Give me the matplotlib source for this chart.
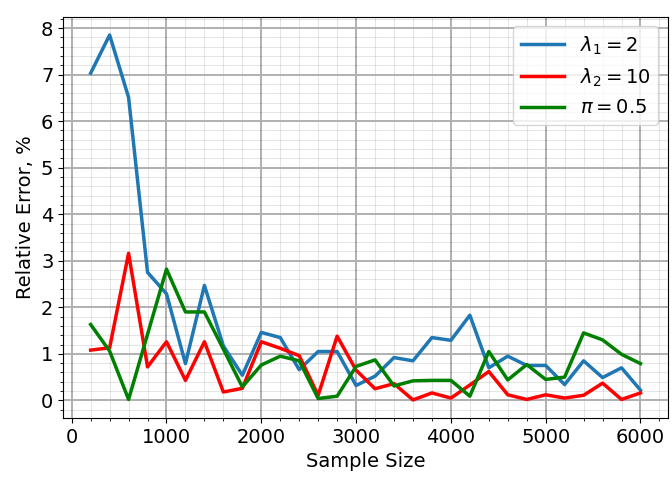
import matplotlib

matplotlib.use("Agg")
import matplotlib.pyplot as plt
from matplotlib.ticker import AutoMinorLocator

# ---- data ------------------------------------------------------------------------
sample_size = [200, 400, 600, 800, 1000, 1200, 1400, 1600, 1800, 2000,
               2200, 2400, 2600, 2800, 3000, 3200, 3400, 3600, 3800, 4000,
               4200, 4400, 4600, 4800, 5000, 5200, 5400, 5600, 5800, 6000]

err_lambda1 = [7.03, 7.85, 6.51, 2.75, 2.29, 0.79, 2.47, 1.17, 0.54, 1.46,
               1.35, 0.66, 1.05, 1.05, 0.32, 0.52, 0.92, 0.85, 1.35, 1.29,
               1.83, 0.70, 0.95, 0.75, 0.75, 0.34, 0.85, 0.49, 0.70, 0.22]

err_lambda2 = [1.08, 1.13, 3.16, 0.72, 1.26, 0.43, 1.26, 0.18, 0.26, 1.26,
               1.12, 0.96, 0.11, 1.38, 0.65, 0.25, 0.36, 0.01, 0.16, 0.05,
               0.33, 0.62, 0.12, 0.02, 0.12, 0.05, 0.11, 0.37, 0.02, 0.16]

err_pi = [1.63, 1.06, 0.02, 1.42, 2.82, 1.90, 1.90, 1.10, 0.29, 0.76,
          0.95, 0.85, 0.04, 0.09, 0.73, 0.87, 0.31, 0.42, 0.43, 0.43,
          0.09, 1.05, 0.44, 0.77, 0.45, 0.50, 1.45, 1.30, 0.99, 0.79]

labels = [r"$\lambda_1 = 2$", r"$\lambda_2 = 10$", r"$\pi = 0.5$"]
colors = ["#1f77b4", "red", "green"]

plt.rcParams["font.size"] = 14

fig, ax = plt.subplots(figsize=(6.72, 4.79), dpi=100)
fig.subplots_adjust(left=0.094, right=0.994, top=0.965, bottom=0.127)

for ys, lab, c in zip([err_lambda1, err_lambda2, err_pi], labels, colors):
    ax.plot(sample_size, ys, color=c, linewidth=2.5, label=lab)

ax.set_xlabel("Sample Size")
ax.set_ylabel("Relative Error, %")
ax.xaxis.set_minor_locator(AutoMinorLocator(5))
ax.yaxis.set_minor_locator(AutoMinorLocator(5))
ax.grid(True, which="major", color="#b0b0b0", linewidth=1.4, alpha=1.0)
# translucent minor grid so crossings never lighten the major lines
ax.grid(True, which="minor", color="black", alpha=0.1, linewidth=0.8)
ax.set_axisbelow(True)
ax.legend(loc="upper right", fontsize=14, handlelength=2.2)

fig.savefig("out.png", dpi=100)
